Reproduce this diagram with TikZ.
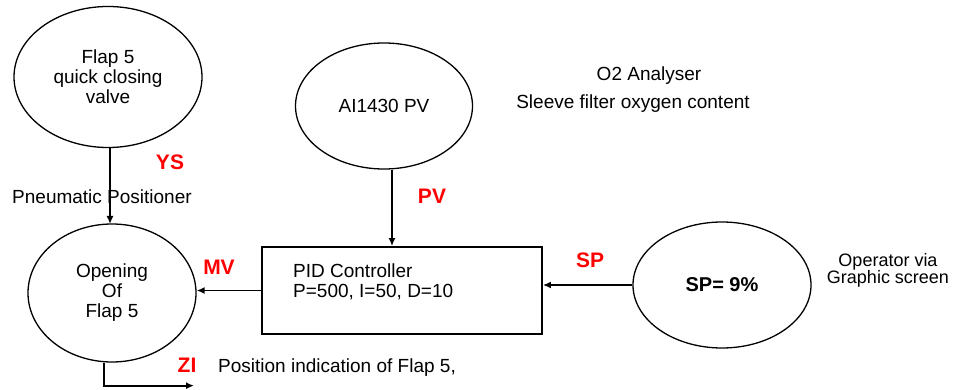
\documentclass[tikz,border=0pt]{standalone}
\usepackage{fontspec}
\setmainfont{Liberation Sans}
\usetikzlibrary{shapes.geometric,arrows.meta,calc}
\begin{document}
\begin{tikzpicture}[x=1pt,y=-1pt,
  oval/.style={ellipse,draw,line width=1.3pt,inner sep=0pt,align=center,font=\fontsize{19}{20}\selectfont},
  txt/.style={font=\fontsize{19}{20}\selectfont,inner sep=0pt},
  redlab/.style={font=\fontsize{21}{22}\selectfont\bfseries,text=red,inner sep=0pt},
  arr/.style={line width=1.8pt,-{Latex[length=8pt,width=7pt]}},
  ln/.style={line width=1.8pt}]
\useasboundingbox (0,0) rectangle (961,390);
\node[oval,minimum width=188pt,minimum height=141pt] (flap) at (108,77) {Flap 5\\quick closing\\valve};
\node[oval,minimum width=168pt,minimum height=138pt] (open) at (112,293) {Opening\\Of\\Flap 5};
\node[oval,minimum width=177pt,minimum height=126pt] (pv) at (384,106) {AI1430 PV};
\node[oval,minimum width=178pt,minimum height=126pt,font=\fontsize{20}{22}\selectfont\bfseries] (sp) at (722,285) {SP= 9\%};
\node[draw,line width=1.8pt,minimum width=280pt,minimum height=87pt,inner sep=0pt] (box) at (402,290.5) {};
\node[txt,anchor=west,align=left] (pidtxt) at (293,282) {PID Controller\\P=500, I=50, D=10};
\draw[arr] (flap.south -| 110,0) -- (110,224);
\draw[arr] (pv.south) ++(8,0) coordinate (pvs) -- (pvs |- box.north);
\draw[arr] (sp.west) -- (sp.west -| box.east);
\draw[arr] (box.west) -- (box.west -| open.east);
\draw[arr] (open.south) ++(-8,0) coordinate (zis) -- ++(0,23) coordinate (zic) -- ++(90,0) coordinate (zie);
\node[txt,anchor=west] (pneu) at (12,197) {Pneumatic Positioner};
\node[redlab] (ys) at (170,162) {YS};
\node[redlab] (pvl) at (432,196) {PV};
\node[redlab] (mv) at (219,267) {MV};
\node[redlab] (spl) at (590,260) {SP};
\node[redlab] (zi) at (187,365) {ZI};
\node[txt,anchor=west] (posind) at (218,368) {Position indication of Flap 5,};
\node[txt] (o2) at (649,76) {O2 Analyser};
\node[txt] (sleeve) at (633,104) {Sleeve filter oxygen content};
\node[txt,align=center,font=\fontsize{18}{17}\selectfont] (oper) at (888,270) {Operator via\\Graphic screen};
\end{tikzpicture}
\end{document}
